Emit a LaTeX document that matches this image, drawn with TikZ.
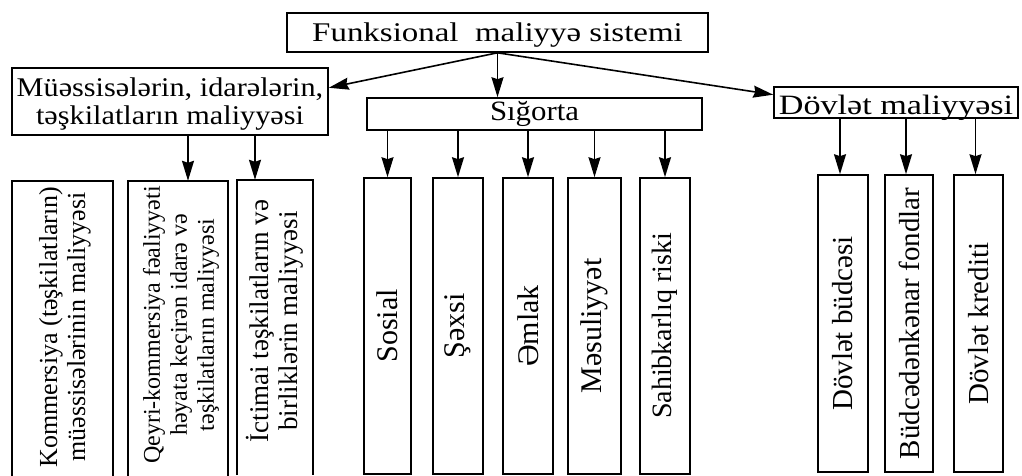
\documentclass[tikz,border=0pt]{standalone}
\usepackage{fontspec}
\usepackage{graphicx}
\setmainfont{Liberation Serif}
\usetikzlibrary{arrows.meta,calc}

\newcommand\setfs[2]{\fontsize{#1}{#2}\selectfont}
% rotated multi-line label: size, leading, lines
\newcommand\vlines[3]{\rotatebox{90}{\setfs{#1}{#2}\begin{tabular}{@{}c@{}}#3\end{tabular}}}

\tikzset{
  box/.style={draw, line width=1.6pt, rectangle, inner sep=0pt},
  plain/.style={inner sep=0pt},
  conn/.style={line width=1.6pt, -{Stealth[length=20pt,width=12pt,inset=2pt]}},
  openbox/.style={line width=1.6pt},
}

\begin{document}
\begin{tikzpicture}[x=1pt,y=-1pt]
\useasboundingbox (0,0) rectangle (1022,476);
\fill[white] (0,0) rectangle (1022,476);
\clip (0,0) rectangle (1022,476);

% --- top level ---
\node[box, minimum width=421pt, minimum height=39pt, text height=18pt, text depth=0pt]
  (top) at (497.5,32.5) {\scalebox{1.22}[1]{\setfs{27}{30}Funksional\ \ maliyyə sistemi}};

% --- second level ---
\node[box, minimum width=316pt, minimum height=67pt] (mue) at (170,101.5) {};
\node[plain] (muetext) at (170,105) {\scalebox{1.12}[1]{\setfs{27}{28.5}\begin{tabular}{@{}c@{}}Müəssisələrin, idarələrin,\\ təşkilatların maliyyəsi\end{tabular}}};

\node[box, minimum width=335pt, minimum height=32pt, text height=14pt, text depth=0pt]
  (sig) at (534.5,114) {\scalebox{1.1}[1]{\setfs{28}{30}Sığorta}};

\node[box, minimum width=244pt, minimum height=31pt, text height=25pt, text depth=0pt]
  (dov) at (896,102.5) {\scalebox{1.22}[1]{\setfs{28}{30}Dövlət maliyyəsi}};

% --- institutions: open-bottom columns ---
\node[plain, minimum width=101pt, minimum height=295pt] (k1) at (62.5,328.5) {};
\node[plain, minimum width=100pt, minimum height=295pt] (k2) at (178,328.5) {};
\node[plain, minimum width=76pt, minimum height=295pt] (k3) at (275,327.5) {};
\foreach \n in {k1,k2,k3}
  \draw[openbox] (\n.south west) -- (\n.north west) -- (\n.north east) -- (\n.south east);

\node[plain] (k1text) at (65.5,327) {\vlines{26}{28}{Kommersiya (təşkilatların)\\ müəssisələrinin maliyyəsi}};
\node[plain] (k2text) at (181.5,325) {\vlines{24}{27}{Qeyri-kommersiya fəaliyyəti\\ həyata keçirən idarə və\\ təşkilatların maliyyəsi}};
\node[plain] (k3text) at (276.5,321) {\vlines{27}{29}{İctimai təşkilatların və\\ birliklərin maliyyəsi}};

% --- insurance branches ---
\node[box, minimum width=47pt, minimum height=296pt] (s1) at (387.5,326) {\rotatebox{90}{\setfs{30}{32}Sosial}};
\node[box, minimum width=50pt, minimum height=296pt] (s2) at (458,326) {\rotatebox{90}{\setfs{30}{32}Şəxsi}};
\node[box, minimum width=50pt, minimum height=296pt] (s3) at (528,326) {\rotatebox{90}{\setfs{30}{32}Əmlak}};
\node[box, minimum width=53pt, minimum height=296pt] (s4) at (594.5,326) {\rotatebox{90}{\setfs{30}{32}Məsuliyyət}};
\node[box, minimum width=50pt, minimum height=296pt] (s5) at (665,326) {\rotatebox{90}{\setfs{28}{30}Sahibkarlıq riski}};

% --- state finance branches ---
\node[box, minimum width=50pt, minimum height=297pt] (d1) at (843,323.5) {\rotatebox{90}{\setfs{29}{31}Dövlət büdcəsi}};
\node[box, minimum width=48pt, minimum height=297pt] (d2) at (909,323.5) {\rotatebox{90}{\setfs{29}{31}Büdcədənkənar fondlar}};
\node[box, minimum width=49pt, minimum height=297pt] (d3) at (978.5,323.5) {\rotatebox{90}{\setfs{29}{31}Dövlət krediti}};

% --- connectors ---
\draw[conn] (top.south) -- ($(mue.north east)!0.3!(mue.south east)$);
\draw[conn] (top.south) -- (top.south |- sig.north);
\draw[conn] (top.south) -- ($(dov.north west)!0.26!(dov.south west)$);

\draw[conn] ([xshift=10pt]k2.north |- mue.south) -- ([xshift=10pt]k2.north);
\draw[conn] ([xshift=-20pt]k3.north |- mue.south) -- ([xshift=-20pt]k3.north);

\foreach \n in {s1,s2,s3,s4,s5}
  \draw[conn] (\n.north |- sig.south) -- (\n.north);

\foreach \n in {d1,d2,d3}
  \draw[conn] ([xshift=-3pt]\n.north |- dov.south) -- ([xshift=-3pt]\n.north);
\end{tikzpicture}
\end{document}
